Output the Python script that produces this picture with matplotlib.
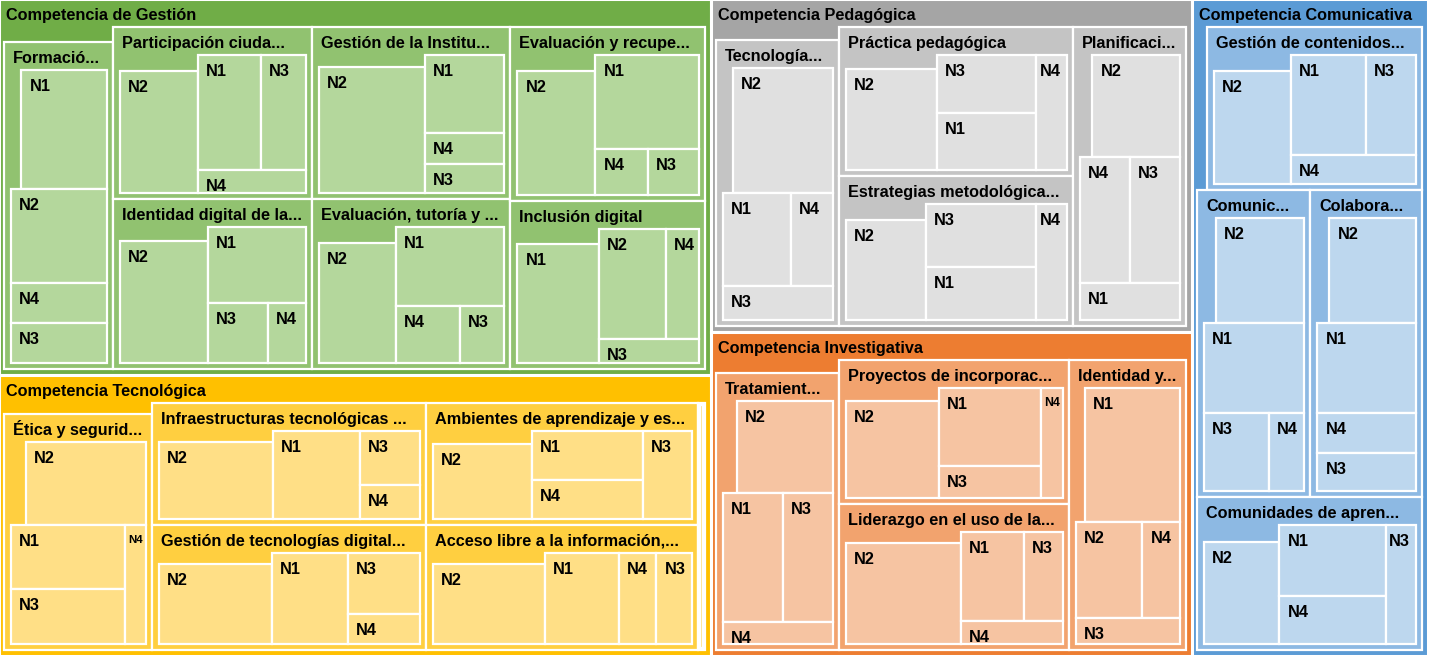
import matplotlib.pyplot as plt
from matplotlib.patches import Rectangle

# ---- data -------------------------------------------------------------
competencias = ["Competencia de Gestión", "Competencia Tecnológica",
                "Competencia Pedagógica", "Competencia Investigativa",
                "Competencia Comunicativa"]

sub_gestion = ["Formació...", "Participación ciuda...", "Identidad digital de la...",
               "Gestión de la Institu...", "Evaluación, tutoría y ...",
               "Evaluación y recupe...", "Inclusión digital"]
niv_gestion = [["N1", "N2", "N4", "N3"], ["N2", "N1", "N3", "N4"], ["N2", "N1", "N3", "N4"],
               ["N2", "N1", "N4", "N3"], ["N2", "N1", "N4", "N3"], ["N2", "N1", "N4", "N3"],
               ["N1", "N2", "N4", "N3"]]
val_gestion = [[180, 141, 61, 61], [171, 115, 81, 39], [192, 118, 58, 36],
               [232, 99, 39, 37], [168, 136, 58, 40], [173, 155, 38, 37],
               [175, 118, 58, 39]]

sub_tecno = ["Ética y segurid...", "Infraestructuras tecnológicas ...",
             "Gestión de tecnologías digital...", "Ambientes de aprendizaje y es...",
             "Acceso libre a la información,...", "Otros"]
niv_tecno = [["N2", "N1", "N3", "N4"], ["N2", "N1", "N3", "N4"], ["N2", "N1", "N3", "N4"],
             ["N2", "N1", "N4", "N3"], ["N2", "N1", "N4", "N3"], ["N1"]]
val_tecno = [[184, 121, 104, 41], [178, 136, 58, 36], [183, 123, 78, 38],
             [156, 97, 77, 77], [181, 121, 60, 58], [21]]

sub_pedag = ["Tecnología...", "Práctica pedagógica", "Estrategias metodológica...",
             "Planificaci..."]
niv_pedag = [["N2", "N1", "N4", "N3"], ["N2", "N3", "N1", "N4"], ["N2", "N3", "N1", "N4"],
             ["N2", "N4", "N3", "N1"]]
val_pedag = [[222, 101, 63, 60], [174, 96, 95, 59], [153, 116, 96, 59],
             [158, 97, 98, 56]]

sub_invest = ["Tratamient...", "Proyectos de incorporac...", "Liderazgo en el uso de la...",
              "Identidad y..."]
niv_invest = [["N2", "N1", "N3", "N4"], ["N2", "N1", "N3", "N4"], ["N2", "N1", "N3", "N4"],
              ["N1", "N2", "N4", "N3"]]
val_invest = [[166, 124, 105, 40], [173, 136, 54, 41], [216, 95, 58, 40],
              [217, 99, 56, 42]]

sub_comun = ["Gestión de contenidos...", "Comunic...", "Colabora...",
             "Comunidades de apren..."]
niv_comun = [["N2", "N1", "N3", "N4"], ["N2", "N1", "N3", "N4"], ["N2", "N1", "N4", "N3"],
             ["N2", "N1", "N4", "N3"]]
val_comun = [[164, 124, 83, 60], [158, 136, 76, 41], [155, 134, 58, 57],
             [144, 121, 83, 57]]

# ---- layout settings (how many items go in each strip) ----------------
strips_top = [2, 2, 1]
strips_sub = [[1, 2, 2, 1, 1], [1, 2, 2, 1], [1, 2, 1], [1, 2, 1], [1, 2, 1]]
strips_leaf = [
    [[1, 1, 2], [1, 2, 1], [1, 1, 1, 1], [1, 1, 2], [1, 1, 1, 1], [1, 1, 1, 1], [1, 2, 1]],
    [[1, 2, 1], [1, 1, 1, 1], [1, 1, 1, 1], [1, 2, 1], [1, 1, 2], [1]],
    [[1, 2, 1], [1, 2, 1], [1, 2, 1], [1, 2, 1]],
    [[1, 2, 1], [1, 2, 1], [1, 2, 1], [1, 2, 1]],
    [[1, 2, 1], [1, 1, 1, 1], [1, 1, 2], [1, 2, 1]],
]

# colours: competencia, sub-group, leaf
palette = [("#70AD47", "#91C270", "#B4D79C"),
           ("#FFC000", "#FFCF40", "#FFDF86"),
           ("#A5A5A5", "#C4C4C4", "#E0E0E0"),
           ("#ED7D31", "#F2A36E", "#F6C4A2"),
           ("#5B9BD5", "#8DB9E3", "#BDD7EE")]

subs = [sub_gestion, sub_tecno, sub_pedag, sub_invest, sub_comun]
nivs = [niv_gestion, niv_tecno, niv_pedag, niv_invest, niv_comun]
vals = [val_gestion, val_tecno, val_pedag, val_invest, val_comun]

W, H = 1429, 658
FS = 11.7
FONT = "Liberation Sans"


def strip_layout(values, counts, rect):
    x0, y0, x1, y1 = rect
    out = []
    i = 0
    for c in counts:
        grp = values[i:i + c]
        rest = sum(values[i:])
        s = sum(grp)
        w, h = x1 - x0, y1 - y0
        if w >= h:
            cw = w * s / rest
            y = y0
            for v in grp:
                out.append([x0, y, x0 + cw, y + h * v / s, "col"])
                y += h * v / s
            x0 += cw
        else:
            rh = h * s / rest
            x = x0
            for v in grp:
                out.append([x, y0, x + w * v / s, y0 + rh, "row"])
                x += w * v / s
            y0 += rh
        i += c
    return out


def notch(r, area):
    # the first box gives up a bit of room next to the header label
    if r[4] == "col":
        r[1] += area / (r[2] - r[0])
    else:
        r[0] += area / (r[3] - r[1])
    return r


fig = plt.figure(figsize=(W / 100, H / 100), dpi=100)
ax = fig.add_axes([0, 0, 1, 1])
ax.set_xlim(0, W)
ax.set_ylim(H, 0)
ax.axis("off")
renderer = fig.canvas.get_renderer()


def box(r, color, lw, z):
    p = Rectangle((r[0], r[1]), r[2] - r[0], r[3] - r[1], facecolor=color,
                  edgecolor="white", linewidth=lw, zorder=z)
    ax.add_patch(p)
    return p


def label(r, s, patch, pad, fit=False):
    w = r[2] - r[0]
    if w < 14 or not s:
        return
    t = ax.text(r[0] + pad, r[1] + 21, s, fontsize=FS, fontweight="bold",
                family=FONT, color="black", va="baseline", ha="left", zorder=10)
    t.set_clip_path(patch)
    if fit:
        tw = t.get_window_extent(renderer).width
        if tw + pad + 4 > w:
            size = min(FS, FS * (w - 6) / tw)
            t.set_fontsize(size)
            t.set_x(r[0] + 3)
            if size < FS:
                t.set_y(r[1] + 10 + 0.716 * size * 100 / 72)


totals = [sum(sum(v) for v in vv) for vv in vals]
top = strip_layout(totals, strips_top, (-1, -1, 1428, 656))

for k, rk in enumerate(top):
    c1, c2, c3 = palette[k]
    p1 = box(rk, c1, 2.2, 1)
    label(rk, competencias[k], p1, 7)
    inner = (rk[0] + 5, rk[1] + 28, rk[2] - 6, rk[3] - 6)
    gsum = [sum(v) for v in vals[k]]
    groups = strip_layout(gsum, strips_sub[k], inner)
    notch(groups[0], 1600)
    for g, rg in enumerate(groups):
        p2 = box(rg, c2, 1.6, 2)
        if rg[2] - rg[0] > 40:
            label(rg, subs[k][g], p2, 9)
        cont = (rg[0] + 7, rg[1] + 28, rg[2] - 6, rg[3] - 6)
        if rg[2] - rg[0] < 40:
            cont = (rg[0] + 2, rg[1] + 2, rg[2] - 2, rg[3] - 2)
        leaves = strip_layout(vals[k][g], strips_leaf[k][g], cont)
        if len(leaves) > 1:
            notch(leaves[0], 1250)
        for n, rl in enumerate(leaves):
            p3 = box(rl, c3, 1.6, 3)
            label(rl, nivs[k][g][n], p3, 8, fit=True)

fig.savefig("out.png", dpi=100)
